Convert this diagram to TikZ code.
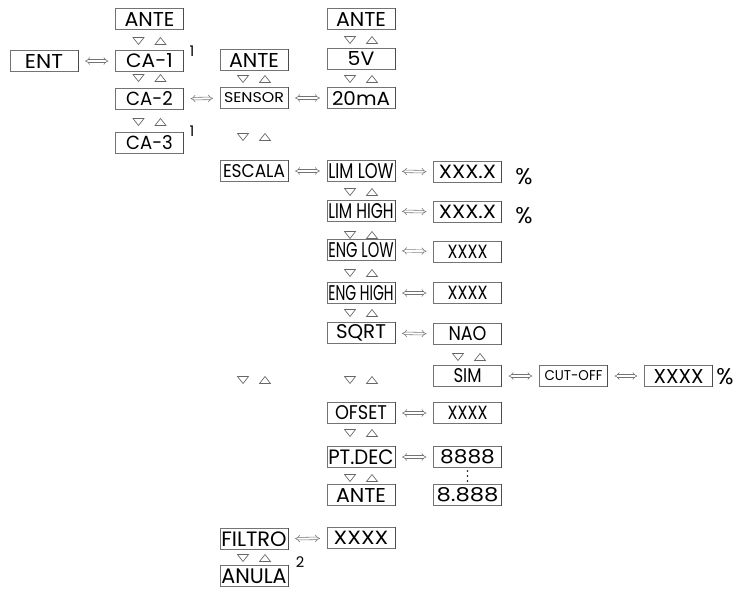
\documentclass[tikz,border=0pt]{standalone}
\usepackage{fontspec}
\usepackage{graphicx}
\setmainfont{Poppins}
\usetikzlibrary{arrows.meta}

% display text squeezed to a given width (pt) and cap height
\newcommand{\lcd}[3][10.5pt]{\resizebox{#2pt}{#1}{#3}}

\tikzset{
  disp/.style={draw=black!55, line width=0.6pt, minimum width=51pt, minimum height=16pt, inner sep=0pt,
    append after command={(\tikzlastnode.north east) edge[draw=black!70, line width=0.8pt] (\tikzlastnode.south east)}},
  dbl/.style={draw=black!55, double, double distance=1.5pt, line width=0.4pt, {Implies}-{Implies}, shorten <=5pt, shorten >=5pt},
  keys/.pic={
    \draw[black!60, line width=0.5pt] (-16.5,3.5) -- (-5.5,3.5) -- (-11,-3.5) -- cycle;
    \draw[black!60, line width=0.5pt] (5.5,-3.5) -- (16.5,-3.5) -- (11,3.5) -- cycle;
  },
  note/.style={inner sep=0pt, font=\fontsize{11}{11}\selectfont},
  pct/.style={inner sep=0pt, font=\fontsize{17}{17}\selectfont}
}

\begin{document}
\begin{tikzpicture}[x=0.75pt,y=0.75pt,yscale=-1,xscale=1]
\useasboundingbox (0,0) rectangle (734,594);

% Text Node
\node [disp] (ent) at (44,61) {\lcd{28.5}{ENT}};
% Text Node
\node [disp] (ante1) at (149.5,19) {\lcd{37.5}{ANTE}};
\node [disp] (ca1) at (149.5,61) {\lcd{35}{CA-1}};
\node [disp] (ca2) at (149.5,99) {\lcd{35}{CA-2}};
\node [disp] (ca3) at (149.5,143) {\lcd{35}{CA-3}};
\node [note] (n1a) at (192,51) {1};
\node [note] (n1b) at (192,131) {1};
\pic at (149.5,41) {keys};
\pic at (149.5,78) {keys};
\pic at (149.5,122) {keys};

% Text Node
\node [disp] (ante2) at (254,60) {\lcd{37.5}{ANTE}};
\node [disp] (sensor) at (254,98) {\lcd[7.5pt]{45}{SENSOR}};
\node [disp] (escala) at (254,171) {\lcd[9.75pt]{46.5}{ESCALA}};
\node [disp] (filtro) at (254,539) {\lcd[11pt]{49}{FILTRO}};
\node [disp] (anula) at (254,576) {\lcd[11pt]{49}{ANULA}};
\node [note] (n2) at (300,562) {2};
\pic at (254,79) {keys};
\pic at (254,137) {keys};
\pic at (254,380) {keys};
\pic at (254,558) {keys};

% Text Node
\node [disp] (ante3) at (361,19) {\lcd{37.5}{ANTE}};
\node [disp] (v5) at (361,59) {\lcd{20}{5V}};
\node [disp] (ma20) at (361,98) {\lcd{43.5}{20mA}};
\node [disp] (limlow) at (361,171) {\lcd[11.25pt]{49}{LIM LOW}};
\node [disp] (limhigh) at (361,211) {\lcd[11.25pt]{49}{LIM HIGH}};
\node [disp] (englow) at (361,250) {\lcd[11.25pt]{49}{ENG LOW}};
\node [disp] (enghigh) at (361,293) {\lcd[11.25pt]{49}{ENG HIGH}};
\node [disp] (sqrt) at (361,333) {\lcd{37.5}{SQRT}};
\node [disp] (ofset) at (361,413) {\lcd{39}{OFSET}};
\node [disp] (ptdec) at (361,457) {\lcd[11pt]{49}{PT.DEC}};
\node [disp] (ante4) at (361,495) {\lcd{37.5}{ANTE}};
\node [disp] (filtval) at (361,538) {\lcd[10pt]{41}{XXXX}};
\pic at (361,40) {keys};
\pic at (361,79) {keys};
\pic at (361,192) {keys};
\pic at (361,235) {keys};
\pic at (361,273) {keys};
\pic at (361,313) {keys};
\pic at (361,380) {keys};
\pic at (361,433) {keys};
\pic at (361,478) {keys};

% Text Node
\node [disp] (lowval) at (467.5,172) {\lcd[10pt]{43}{XXX.X}};
\node [disp] (highval) at (467.5,212) {\lcd[10pt]{43}{XXX.X}};
\node [disp] (englval) at (467.5,252) {\lcd[10pt]{30}{XXXX}};
\node [disp] (enghval) at (467.5,293) {\lcd[10pt]{30}{XXXX}};
\node [disp] (nao) at (467.5,334) {\lcd{28.5}{NAO}};
\node [disp] (sim) at (467.5,376) {\lcd{21}{SIM}};
\node [disp] (ofsval) at (467.5,413) {\lcd[10pt]{30}{XXXX}};
\node [disp] (dec0) at (467.5,457) {\lcd{41}{8888}};
\node [disp] (dec3) at (467.5,495) {\lcd{46.5}{8.888}};
% vertical dots between the decimal settings
\foreach \y in {471,476,481}
  \fill (467.5,\y) circle (0.9);
\pic at (469,357) {keys};
\node [pct] (p1) at (524,177) {\%};
\node [pct] (p2) at (524,216) {\%};

% Text Node
\node [disp] (cutoff) at (573.5,376) {\lcd[7.5pt]{43.5}{CUT-OFF}};
\node [disp] (cutval) at (678.5,376) {\lcd{37.5}{XXXX}};
\node [pct] (p3) at (725,377) {\%};

%Straight Lines
\draw [dbl] (ent) -- (ca1);
\draw [dbl] (ca2) -- (sensor);
\draw [dbl] (sensor) -- (ma20);
\draw [dbl] (escala) -- (limlow);
\draw [dbl] (limlow) -- (lowval);
\draw [dbl] (limhigh) -- (highval);
\draw [dbl] (englow) -- (englval);
\draw [dbl] (enghigh) -- (enghval);
\draw [dbl] (sqrt) -- (nao);
\draw [dbl] (sim) -- (cutoff);
\draw [dbl] (cutoff) -- (cutval);
\draw [dbl] (ofset) -- (ofsval);
\draw [dbl] (ptdec) -- (dec0);
\draw [dbl] (filtro) -- (filtval);

\end{tikzpicture}
\end{document}
